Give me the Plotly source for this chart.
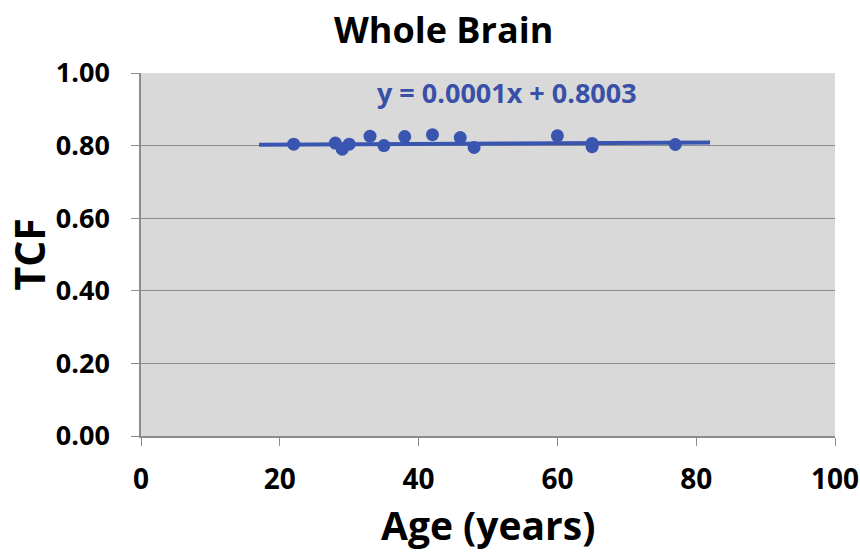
import plotly.graph_objects as go

age = [22, 28, 29, 30, 33, 35, 38, 42, 46, 48, 60, 65, 65, 77]
tcf = [0.804, 0.807, 0.790, 0.804, 0.826, 0.800, 0.825, 0.830, 0.822, 0.795, 0.827, 0.806, 0.797, 0.803]
slope = 0.0001
intercept = 0.8003
fit_x = [17, 82]
fit_y = [slope * v + intercept for v in fit_x]
x_ticks = [0, 20, 40, 60, 80, 100]
y_ticks = [0, 0.2, 0.4, 0.6, 0.8, 1.0]

FONT = "Open Sans"
blue = "#3a55b0"
W, H = 860, 557
L, R, T, B = 141, 25, 73, 121

fig = go.Figure()
fig.add_trace(go.Scatter(x=fit_x, y=fit_y, mode="lines",
                         line=dict(color=blue, width=4), showlegend=False))
fig.add_trace(go.Scatter(x=age, y=tcf, mode="markers",
                         marker=dict(color=blue, size=13), showlegend=False))
fig.add_annotation(x=52.7, y=0.946, xref="x", yref="y", text="<b>y = 0.0001x + 0.8003</b>",
                   showarrow=False, font=dict(color="#3850a8", size=27, family=FONT))
# chart title
fig.add_annotation(x=(443 - L) / (W - L - R), y=1 + (T - 29) / (H - T - B),
                   xref="paper", yref="paper", xanchor="center", yanchor="middle",
                   text="<b>Whole Brain</b>", showarrow=False, font=dict(size=36, family=FONT))
# x title
fig.add_annotation(x=0.5, y=-(524 - (H - B)) / (H - T - B),
                   xref="paper", yref="paper", xanchor="center", yanchor="middle",
                   text="<b>Age (years)</b>", showarrow=False, font=dict(size=39, family=FONT))
# y title
fig.add_annotation(x=-(L - 28) / (W - L - R), y=0.5,
                   xref="paper", yref="paper", xanchor="center", yanchor="middle", textangle=-90,
                   text="<b>TCF</b>", showarrow=False, font=dict(size=41, family=FONT))
fig.update_layout(
    width=W, height=H,
    margin=dict(l=L, r=R, t=T, b=B),
    paper_bgcolor="white", plot_bgcolor="#d9d9d9",
    font=dict(family=FONT, color="black"),
)
fig.update_xaxes(range=[0, 100], tickvals=x_ticks, ticktext=["<b>%d</b>" % v for v in x_ticks],
                 showgrid=False, zeroline=False, showline=True, linecolor="#8c8c8c", linewidth=1.5,
                 ticks="outside", ticklen=8, tickcolor="#8c8c8c", automargin=False,
                 ticklabeloverflow="allow", ticklabelstandoff=10, tickfont=dict(size=28))
fig.update_yaxes(range=[0, 1.0], tickvals=y_ticks, ticktext=["<b>%.2f</b>" % v for v in y_ticks],
                 showgrid=True, gridcolor="#8c8c8c", gridwidth=1, zeroline=False, showline=True, linecolor="#8c8c8c", linewidth=1.5,
                 ticks="outside", ticklen=8, tickcolor="#8c8c8c", automargin=False,
                 ticklabeloverflow="allow", ticklabelstandoff=16, tickfont=dict(size=27))
fig.write_html("out.html", config={"displayModeBar": False},
               post_script="document.body.style.margin='0';")
